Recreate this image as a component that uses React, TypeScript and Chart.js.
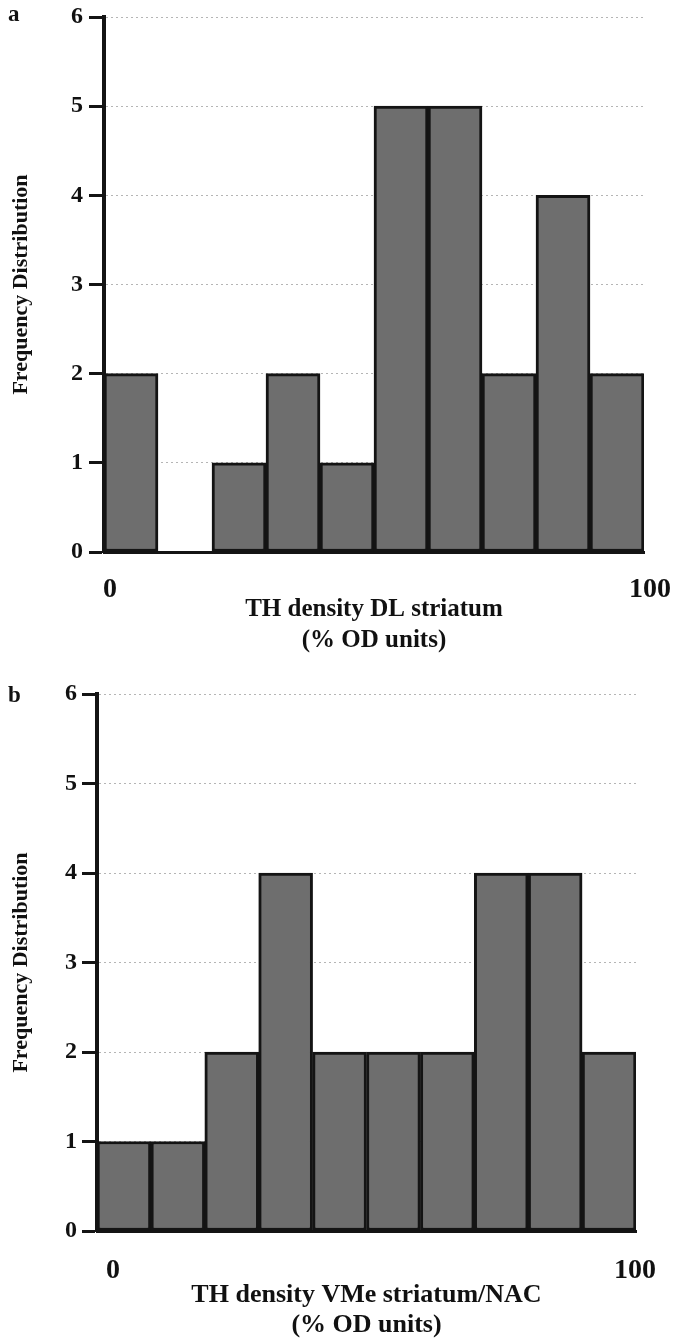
import React, { useEffect, useRef } from "react";
import { Chart, registerables } from "chart.js";

Chart.register(...registerables);

// ---- data ----
const binLabels = ["0–10", "10–20", "20–30", "30–40", "40–50", "50–60", "60–70", "70–80", "80–90", "90–100"];
const countsDL = [2, 0, 1, 2, 1, 5, 5, 2, 4, 2];
const countsVMe = [1, 1, 2, 4, 2, 2, 2, 4, 4, 2];
const yMin = 0;
const yMax = 6;
const xEndLabels = [0, 100];
const yTitle = "Frequency Distribution";
const xTitleA = ["TH density DL striatum", "(% OD units)"];
const xTitleB = ["TH density VMe striatum/NAC", "(% OD units)"];
const panelLetters = ["a", "b"];

const FONT = "'Liberation Serif', 'Times New Roman', Times, serif";

type PanelCfg = {
  height: number;
  yWidth: number;
  padRight: number;
  padTop: number;
  xAxisHeight: number;
  labelMin: number;
  labelMax: number;
  labelPad: number;
  yLabelPad: number;
  titleSize: number;
  titleLH: number;
  titlePadBottom: number;
};

function Panel({ counts, xTitle, cfg }: { counts: number[]; xTitle: string[]; cfg: PanelCfg }) {
  const ref = useRef<HTMLCanvasElement | null>(null);
  useEffect(() => {
    if (!ref.current) return;
    const chart = new Chart(ref.current, {
      type: "bar",
      data: {
        labels: binLabels,
        datasets: [
          {
            data: counts,
            backgroundColor: "#6e6e6e",
            borderColor: "#141414",
            borderWidth: 3,
            borderSkipped: false,
            barPercentage: 1,
            categoryPercentage: 1,
            xAxisID: "x",
            yAxisID: "y",
          },
        ],
      },
      options: {
        responsive: false,
        maintainAspectRatio: false,
        animation: false,
        events: [],
        layout: { padding: { left: 0, right: cfg.padRight, top: cfg.padTop, bottom: 0 } },
        plugins: { legend: { display: false }, tooltip: { enabled: false }, title: { display: false } },
        scales: {
          x: {
            type: "category",
            position: "bottom",
            offset: true,
            z: 1,
            grid: { display: false, drawTicks: false },
            ticks: { display: false },
            border: { display: true, color: "#141414", width: 3 },
            afterFit: (s: any) => {
              s.height = 0;
              s.paddingLeft = 0;
              s.paddingRight = 0;
            },
          },
          xl: {
            type: "linear",
            position: "bottom",
            offset: false,
            min: cfg.labelMin,
            max: cfg.labelMax,
            grid: { display: false, drawTicks: false, offset: false },
            border: { display: false },
            afterBuildTicks: (s: any) => {
              s.ticks = xEndLabels.map((v) => ({ value: v }));
            },
            ticks: {
              autoSkip: false,
              maxRotation: 0,
              padding: cfg.labelPad,
              color: "#111",
              font: { family: FONT, size: 28, weight: "bold" },
              callback: (v: any) => String(v),
            },
            title: {
              display: true,
              text: xTitle,
              color: "#111",
              font: { family: FONT, size: cfg.titleSize, weight: "bold", lineHeight: cfg.titleLH },
              padding: { top: 0, bottom: cfg.titlePadBottom },
            },
            afterFit: (s: any) => {
              s.height = cfg.xAxisHeight;
              s.paddingLeft = 0;
              s.paddingRight = 0;
            },
          },
          y: {
            type: "linear",
            position: "left",
            min: yMin,
            max: yMax,
            grid: {
              display: true,
              color: "#b5b5b5",
              lineWidth: 1,
              drawTicks: true,
              tickLength: 15,
              tickWidth: 3,
              tickColor: "#141414",
            },
            border: { display: true, color: "#141414", width: 4, dash: [2, 3] },
            ticks: {
              stepSize: 1,
              padding: cfg.yLabelPad,
              color: "#111",
              font: { family: FONT, size: 24, weight: "bold" },
            },
            title: {
              display: true,
              text: yTitle,
              color: "#111",
              font: { family: FONT, size: 22, weight: "bold" },
              padding: { top: 8, bottom: 0 },
            },
            afterFit: (s: any) => {
              s.width = cfg.yWidth;
              s.paddingTop = 0;
              s.paddingBottom = 0;
            },
          },
        },
      } as any,
    });
    return () => chart.destroy();
  }, [counts, xTitle, cfg]);
  return <canvas ref={ref} width={677} height={cfg.height} style={{ display: "block", width: 677, height: cfg.height }} />;
}

const cfgA: PanelCfg = {
  height: 670,
  yWidth: 104,
  padRight: 33,
  padTop: 17,
  xAxisHeight: 118,
  labelMin: -1.1,
  labelMax: 98.9,
  labelPad: 21,
  yLabelPad: 6,
  titleSize: 25,
  titleLH: 1.25,
  titlePadBottom: 14,
};

const cfgB: PanelCfg = {
  height: 671,
  yWidth: 97,
  padRight: 41,
  padTop: 24,
  xAxisHeight: 110,
  labelMin: -3.07,
  labelMax: 100.19,
  labelPad: 23,
  yLabelPad: 5,
  titleSize: 26,
  titleLH: 1.15,
  titlePadBottom: 1,
};

const letterStyle: React.CSSProperties = {
  position: "absolute",
  left: 8,
  fontFamily: FONT,
  fontWeight: "bold",
  fontSize: 23,
  lineHeight: "22px",
  color: "#111",
};

export default function App() {
  useEffect(() => {
    document.body.style.margin = "0";
  }, []);
  return (
    <div style={{ position: "relative", width: 677, height: 1341, background: "#fff", overflow: "hidden" }}>
      <div style={{ position: "absolute", left: 0, top: 0 }}>
        <Panel counts={countsDL} xTitle={xTitleA} cfg={cfgA} />
      </div>
      <div style={{ position: "absolute", left: 0, top: 670 }}>
        <Panel counts={countsVMe} xTitle={xTitleB} cfg={cfgB} />
      </div>
      <div style={{ ...letterStyle, top: 3 }}>{panelLetters[0]}</div>
      <div style={{ ...letterStyle, top: 684 }}>{panelLetters[1]}</div>
    </div>
  );
}
